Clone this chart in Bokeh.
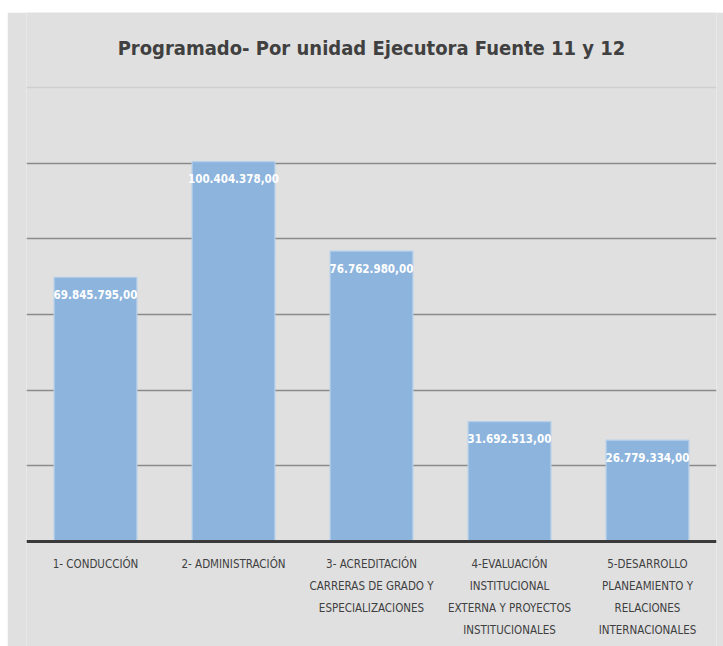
from bokeh.plotting import figure
from bokeh.models import ColumnDataSource, LabelSet, Label, FixedTicker, Span, FactorRange
from bokeh.core.properties import value
from bokeh.embed import file_html
from bokeh.resources import INLINE

# ---- data ----
categories = [
    "1- CONDUCCIÓN",
    "2- ADMINISTRACIÓN",
    "3- ACREDITACIÓN\nCARRERAS DE GRADO Y\nESPECIALIZACIONES",
    "4-EVALUACIÓN\nINSTITUCIONAL\nEXTERNA Y PROYECTOS\nINSTITUCIONALES",
    "5-DESARROLLO\nPLANEAMIENTO Y\nRELACIONES\nINTERNACIONALES",
]
values = [69845795.00, 100404378.00, 76762980.00, 31692513.00, 26779334.00]
y_ticks = [0, 20000000, 40000000, 60000000, 80000000, 100000000, 120000000]
title_text = "Programado- Por unidad Ejecutora Fuente 11 y 12"


def fmt_es(v):
    s = f"{v:,.2f}"
    return s.replace(",", "X").replace(".", ",").replace("X", ".")


labels = [fmt_es(v) for v in values]

FONT = "'DejaVu Sans Condensed', 'Liberation Sans Narrow', sans-serif"
BG = "#e0e0e0"

# layout: plot area 454 px tall for 0..120M, 75 px above (title), 105 px below (labels)
PLOT_PX = 454.0
TOP_PX = 75.0
BOTTOM_PX = 105.0
LINE_PX = 22.0
units_per_px = (y_ticks[-1] - y_ticks[0]) / PLOT_PX
y_lo = y_ticks[0] - BOTTOM_PX * units_per_px
y_hi = y_ticks[-1] + TOP_PX * units_per_px

src = ColumnDataSource(dict(cat=categories, val=values, lab=labels))

# one entry per line of each category label, so every line is centred
row_cat, row_txt, row_y, row_off = [], [], [], []
for c in categories:
    for i, line in enumerate(c.split("\n")):
        row_cat.append(c)
        row_txt.append(line)
        row_y.append(y_ticks[0])
        row_off.append(-LINE_PX * (i + 1))
cat_src = ColumnDataSource(dict(cat=row_cat, txt=row_txt, y=row_y, off=row_off))

p = figure(
    x_range=FactorRange(*categories, range_padding=0),
    y_range=(y_lo, y_hi),
    width=716, height=634,
    output_backend="svg", toolbar_location=None,
    min_border_left=19, min_border_right=7,
    min_border_top=0, min_border_bottom=0,
)
p.margin = (12, 0, 0, 7)
p.background_fill_color = BG
p.border_fill_color = BG
p.outline_line_color = None
p.xaxis.visible = False
p.yaxis.visible = False

# grid lines
p.ygrid.ticker = FixedTicker(ticks=y_ticks[1:-1])
p.ygrid.grid_line_color = "#8a8a8a"
p.ygrid.grid_line_width = 1.3
p.xgrid.grid_line_color = None
p.add_layout(Span(location=y_ticks[-1], dimension="width",
                  line_color="#cfcfcf", line_width=1.3))

p.vbar(x="cat", top="val", bottom=y_ticks[0], width=0.6, source=src,
       fill_color="#8db4dd", line_color="#b5cfea", line_width=1.2)

# baseline axis
p.add_layout(Span(location=y_ticks[0], dimension="width",
                  line_color="#3a3a3a", line_width=3))

# title
p.add_layout(Label(x=len(categories) / 2.0, y=y_ticks[-1], y_offset=40,
                   text=title_text, text_align="center", text_baseline="middle",
                   text_font=FONT, text_font_size="20px",
                   text_font_style="bold", text_color="#404040"))

# value labels
p.add_layout(LabelSet(x="cat", y="val", text="lab", source=src,
                      y_offset=-17, text_align="center", text_baseline="middle",
                      text_color="white", text_font=value(FONT),
                      text_font_size="11.5px", text_font_style="bold"))

# category labels under the axis (one centred line each)
p.add_layout(LabelSet(x="cat", y="y", text="txt", y_offset="off", source=cat_src,
                      text_align="center", text_baseline="middle",
                      text_color="#404040", text_font=value(FONT),
                      text_font_size="11.5px"))

open("out.html", "w").write(file_html(p, INLINE))
